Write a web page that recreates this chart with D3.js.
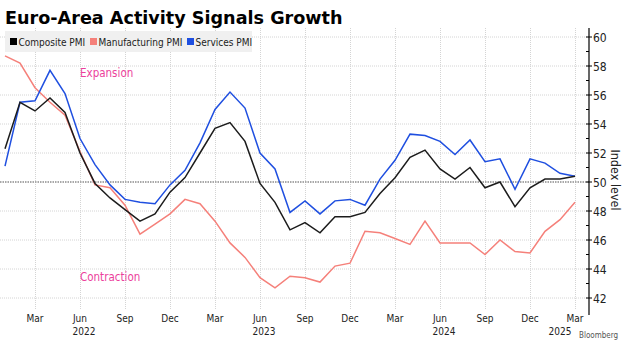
<!DOCTYPE html>
<html>
<head>
<meta charset="utf-8">
<script src="https://cdn.jsdelivr.net/npm/d3@7"></script>
<style>
  html, body { margin: 0; padding: 0; background: #fff; }
  svg { display: block; }
</style>
</head>
<body>
<svg id="chart"></svg>
<script>
// Monthly PMI readings, Jan 2022 .. Mar 2025
var startYear = 2022;
var monthNames = ['Jan', 'Feb', 'Mar', 'Apr', 'May', 'Jun', 'Jul', 'Aug', 'Sep', 'Oct', 'Nov', 'Dec'];

var composite = [52.3, 55.5, 54.9, 55.8, 54.8, 52.0, 49.9, 48.9, 48.1, 47.3, 47.8, 49.3,
                 50.3, 52.0, 53.7, 54.1, 52.8, 49.9, 48.6, 46.7, 47.2, 46.5, 47.6, 47.6,
                 47.9, 49.2, 50.3, 51.7, 52.2, 50.9, 50.2, 51.0, 49.6, 50.0, 48.3, 49.6,
                 50.2, 50.2, 50.4];
var manufacturing = [58.7, 58.2, 56.5, 55.5, 54.6, 52.1, 49.8, 49.6, 48.4, 46.4, 47.1, 47.8,
                     48.8, 48.5, 47.3, 45.8, 44.8, 43.4, 42.7, 43.5, 43.4, 43.1, 44.2, 44.4,
                     46.6, 46.5, 46.1, 45.7, 47.3, 45.8, 45.8, 45.8, 45.0, 46.0, 45.2, 45.1,
                     46.6, 47.4, 48.6];
var services = [51.1, 55.5, 55.6, 57.7, 56.1, 53.0, 51.2, 49.8, 48.8, 48.6, 48.5, 49.8,
                50.8, 52.7, 55.0, 56.2, 55.1, 52.0, 50.9, 47.9, 48.7, 47.8, 48.7, 48.8,
                48.4, 50.2, 51.5, 53.3, 53.2, 52.8, 51.9, 52.9, 51.4, 51.6, 49.5, 51.6,
                51.3, 50.6, 50.4];

var yTicks = [42, 44, 46, 48, 50, 52, 54, 56, 58, 60];
var seriesNames = ['Composite PMI', 'Manufacturing PMI', 'Services PMI'];
var seriesColors = ['#1c1c1c', '#f5807a', '#1f4fe0'];

var width = 630, height = 340;
var svg = d3.select('#chart').attr('width', width).attr('height', height);

var axisX = 589;
var x = d3.scaleLinear().domain([0, composite.length - 1]).range([5, 575]);
var y = d3.scaleLinear().domain([42, 60]).range([298, 37]);

// quarterly ticks starting at Mar 2022
var xTicks = d3.range(2, composite.length, 3);

// grid
var grid = svg.append('g');
grid.selectAll('.hgrid')
    .data(yTicks.filter(d => d !== 50))
    .enter().append('line')
    .attr('x1', 0).attr('x2', axisX)
    .attr('y1', d => y(d)).attr('y2', d => y(d))
    .style('stroke', '#d4d4d4')
    .style('stroke-width', 1)
    .style('stroke-dasharray', '1,1');
grid.selectAll('.vgrid')
    .data(xTicks)
    .enter().append('line')
    .attr('x1', d => Math.round(x(d)) + 0.5).attr('x2', d => Math.round(x(d)) + 0.5)
    .attr('y1', 28).attr('y2', 310)
    .style('stroke', '#d4d4d4')
    .style('stroke-width', 1)
    .style('stroke-dasharray', '1,1');

// 50 = expansion / contraction threshold
svg.append('line')
    .attr('x1', 0).attr('x2', axisX)
    .attr('y1', y(50)).attr('y2', y(50))
    .style('stroke', '#a8a8a8')
    .style('stroke-width', 2)
    .style('stroke-dasharray', '1.5,1');

// series lines
var line = d3.line()
    .x((d, i) => x(i))
    .y(d => y(d));

[manufacturing, services, composite].forEach(function (values) {
    var idx = [composite, manufacturing, services].indexOf(values);
    svg.append('path')
        .datum(values)
        .attr('d', line)
        .style('fill', 'none')
        .style('stroke', seriesColors[idx])
        .style('stroke-width', 1.5)
        .style('stroke-linejoin', 'miter');
});

// zone labels
svg.append('text')
    .attr('x', 80).attr('y', 77)
    .style('font-family', 'DejaVu Sans Condensed, DejaVu Sans')
    .style('font-size', '11.5px')
    .style('fill', '#ec3f9c')
    .text('Expansion');
svg.append('text')
    .attr('x', 80).attr('y', 281)
    .style('font-family', 'DejaVu Sans Condensed, DejaVu Sans')
    .style('font-size', '11.5px')
    .style('fill', '#ec3f9c')
    .text('Contraction');

// title
svg.append('text')
    .attr('x', 5).attr('y', 24)
    .style('font-family', 'DejaVu Sans')
    .style('font-weight', 'bold')
    .style('font-size', '17.6px')
    .style('fill', '#000')
    .text('Euro-Area Activity Signals Growth');

// legend
var legend = svg.append('g');
legend.append('rect')
    .attr('x', 5).attr('y', 31)
    .attr('width', 247).attr('height', 21)
    .style('fill', '#f0f0f0');
var legendX = [10, 90, 187];
seriesNames.forEach(function (name, i) {
    legend.append('rect')
        .attr('x', legendX[i]).attr('y', 38)
        .attr('width', 7).attr('height', 7)
        .style('fill', seriesColors[i] === '#1c1c1c' ? '#000' : seriesColors[i]);
    legend.append('text')
        .attr('x', legendX[i] + 8.5).attr('y', 45.5)
        .style('font-family', 'DejaVu Sans Condensed, DejaVu Sans')
        .style('font-size', '10px')
        .style('fill', '#222')
        .text(name);
});

// right axis
var yAxis = svg.append('g');
yAxis.append('line')
    .attr('x1', axisX).attr('x2', axisX)
    .attr('y1', 28).attr('y2', 315)
    .style('stroke', '#000').style('stroke-width', 1.2);
yAxis.selectAll('.minor')
    .data(d3.range(43, 60, 2))
    .enter().append('line')
    .attr('x1', axisX - 3).attr('x2', axisX)
    .attr('y1', d => y(d)).attr('y2', d => y(d))
    .style('stroke', '#000');
yAxis.selectAll('.major')
    .data(yTicks)
    .enter().append('line')
    .attr('x1', axisX - 3).attr('x2', axisX + 3)
    .attr('y1', d => y(d)).attr('y2', d => y(d))
    .style('stroke', '#000');
yAxis.selectAll('.ylab')
    .data(yTicks)
    .enter().append('text')
    .attr('x', axisX + 4).attr('y', d => y(d) + 4.5)
    .style('font-family', 'DejaVu Sans Condensed, DejaVu Sans')
    .style('font-size', '12px')
    .style('fill', '#222')
    .text(d => d);
svg.append('text')
    .attr('transform', 'translate(611,180) rotate(90)')
    .attr('text-anchor', 'middle')
    .style('font-family', 'DejaVu Sans Condensed, DejaVu Sans')
    .style('font-size', '12.5px')
    .style('fill', '#222')
    .text('Index level');

// bottom axis labels
var xAxis = svg.append('g');
xAxis.selectAll('.mlab')
    .data(xTicks)
    .enter().append('text')
    .attr('x', d => x(d)).attr('y', 322)
    .attr('text-anchor', 'middle')
    .style('font-family', 'DejaVu Sans Condensed, DejaVu Sans')
    .style('font-size', '10px')
    .style('fill', '#222')
    .text(d => monthNames[d % 12]);
var yearTicks = xTicks.filter(d => d % 12 === 5 || d === xTicks[xTicks.length - 1]);
xAxis.selectAll('.ylab')
    .data(yearTicks)
    .enter().append('text')
    .attr('x', d => d === xTicks[xTicks.length - 1] ? x(d) - 15 : x(d) + 4)
    .attr('y', 335)
    .attr('text-anchor', 'middle')
    .style('font-family', 'DejaVu Sans Condensed, DejaVu Sans')
    .style('font-size', '10px')
    .style('fill', '#222')
    .text(d => startYear + Math.floor(d / 12));

// source line
svg.append('text')
    .attr('x', 579).attr('y', 338)
    .style('font-family', 'DejaVu Sans Condensed, DejaVu Sans')
    .style('font-size', '8px')
    .style('fill', '#555')
    .text('Bloomberg');
</script>
</body>
</html>
